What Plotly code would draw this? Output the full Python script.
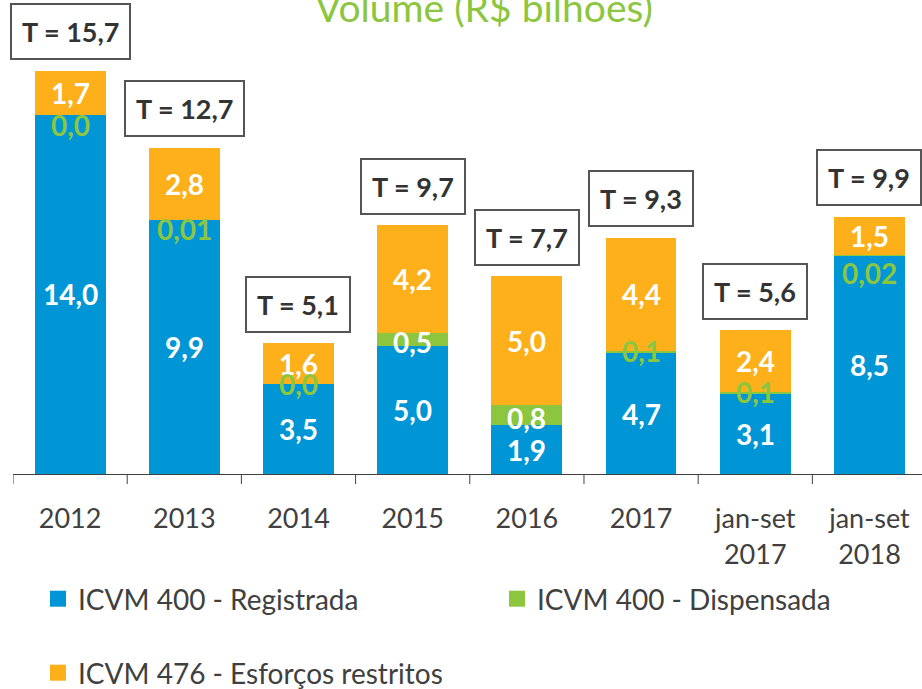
import plotly.graph_objects as go

categories = ["2012", "2013", "2014", "2015", "2016", "2017", "jan-set<br>2017", "jan-set<br>2018"]
registrada = [14.0, 9.9, 3.5, 5.0, 1.9, 4.7, 3.1, 8.5]
dispensada = [0.0, 0.01, 0.0, 0.5, 0.8, 0.1, 0.1, 0.02]
esforcos = [1.7, 2.8, 1.6, 4.2, 5.0, 4.4, 2.4, 1.5]
totais = [15.7, 12.7, 5.1, 9.7, 7.7, 9.3, 5.6, 9.9]
series_names = ["ICVM 400 - Registrada", "ICVM 400 - Dispensada", "ICVM 476 - Esforços restritos"]

# style: pixel nudges of the small green labels (as placed in the original)
green_label_nudge = [-10, -9, 0, 0, 0, 0, 0, -18]

BLUE = "#0096D6"
GREEN = "#8CC63F"
ORANGE = "#FDB01A"
TXT = "#404040"
FONT = "Lato"


def fmt(v):
    s = f"{v:.1f}" if abs(round(v, 1) - v) < 1e-9 else f"{v:.2f}"
    return s.replace(".", ",")


xs = list(range(len(categories)))
fig = go.Figure()
for vals, col in zip([registrada, dispensada, esforcos], [BLUE, GREEN, ORANGE]):
    fig.add_bar(x=xs, y=vals, marker=dict(color=col, line=dict(width=0)),
                width=0.62, showlegend=False, hoverinfo="skip")

# legend-only entries (square markers)
for name, col, lg in zip(series_names, [BLUE, GREEN, ORANGE], ["legend", "legend2", "legend3"]):
    fig.add_scatter(x=[None], y=[None], mode="markers", name=name, legend=lg,
                    marker=dict(symbol="square", size=16, color=col))

ann = []
lab_font = dict(size=28, color="white", family=FONT)
for i in xs:
    b, g, o = registrada[i], dispensada[i], esforcos[i]
    ann.append(dict(x=i, y=b / 2, text=f"<b>{fmt(b)}</b>", showarrow=False, font=lab_font))
    ann.append(dict(x=i, y=b + g + o / 2, text=f"<b>{fmt(o)}</b>", showarrow=False, font=lab_font))
    if g >= 0.3:
        ann.append(dict(x=i, y=b + g / 2, text=f"<b>{fmt(g)}</b>", showarrow=False,
                        yshift=-3, font=lab_font))
    else:
        ann.append(dict(x=i, y=b + g, text=f"<b>{fmt(g)}</b>", showarrow=False,
                        yshift=green_label_nudge[i],
                        font=dict(size=28, color=GREEN, family=FONT)))
    ann.append(dict(x=i, y=b + g + o, text=f"<b>T = {fmt(totais[i])}</b>", showarrow=False,
                    yshift=39, bordercolor="#555555", borderwidth=2, borderpad=10,
                    bgcolor="white", font=dict(size=27, color="#333333", family=FONT)))

ann.append(dict(xref="paper", yref="paper", x=(484 - 13) / 909, y=1 - 7 / 474,
                xanchor="center", yanchor="middle", showarrow=False,
                text="Volume (R$ bilhões)", font=dict(size=39, color=GREEN, family=FONT)))

leg_common = dict(orientation="h", xref="container", yref="container", xanchor="left",
                  yanchor="middle", font=dict(size=28, color=TXT, family=FONT),
                  bgcolor="rgba(0,0,0,0)")

fig.update_layout(
    width=922, height=689,
    margin=dict(l=13, r=0, t=0, b=215, autoexpand=False),
    paper_bgcolor="white", plot_bgcolor="white",
    barmode="stack",
    annotations=ann,
    font=dict(family=FONT, color=TXT),
    xaxis=dict(range=[-0.5, 7.46], showline=True, linecolor="#404040",
               linewidth=1, ticks="", tickmode="array", tickvals=xs, ticktext=categories,
               tickfont=dict(size=27, color=TXT, family=FONT),
               ticklabelstandoff=21, showgrid=False, zeroline=False, fixedrange=True,
               automargin=False),
    yaxis=dict(visible=False, range=[0, 474 / 25.67], fixedrange=True),
    legend=dict(x=38 / 922, y=1 - 599 / 689, **leg_common),
    legend2=dict(x=497 / 922, y=1 - 599 / 689, **leg_common),
    legend3=dict(x=38 / 922, y=1 - 673 / 689, **leg_common),
    showlegend=True,
)

# ticks on category boundaries
for k in range(len(categories) + 1):
    fig.add_shape(type="line", xref="x", yref="paper", x0=k - 0.5, x1=k - 0.5,
                  y0=0, y1=-10 / 474, line=dict(color="#404040", width=1))

fig.write_html("out.html", config={"displayModeBar": False},
               post_script="document.body.style.margin='0';")
